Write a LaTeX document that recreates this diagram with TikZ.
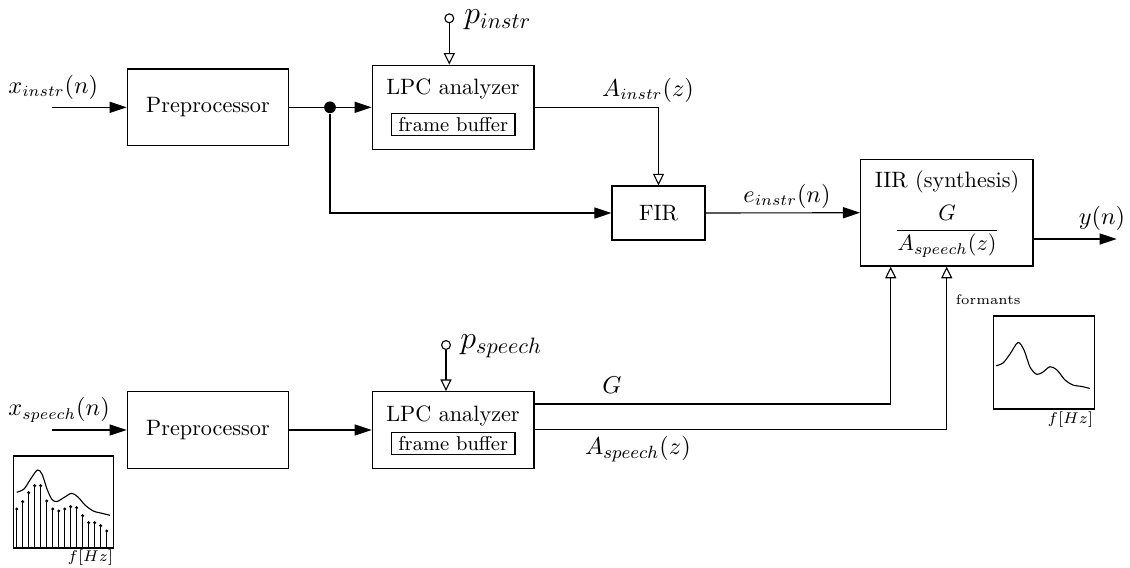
\documentclass[tikz,border=0pt]{standalone}
\usetikzlibrary{arrows.meta}
\newcommand\pxu{0.45pt}
\begin{document}
\begin{tikzpicture}[x=0.45pt,y=-0.45pt,
  block/.style={draw, line width=0.6pt, inner sep=0pt, align=center},
  fbbox/.style={draw, line width=0.5pt, minimum width=123.3*\pxu, minimum height=22*\pxu, inner sep=0pt, font=\small},
  txt/.style={inner sep=0pt},
  mlab/.style={inner sep=0pt, font=\fontsize{10.6}{12}\selectfont},
  biglab/.style={inner sep=0pt, font=\fontsize{11.4}{13}\selectfont},
  plab/.style={inner sep=0pt, font=\Large},
  tinylab/.style={inner sep=0pt, font=\scriptsize},
  wire/.style={line width=0.5pt},
  tri/.style={wire, -{Triangle[length=7.7pt,width=5pt]}},
  otri/.style={wire, -{Triangle[open,length=5.2pt,width=5pt]}},
  junction/.style={circle, fill, inner sep=0pt, minimum size=5.3pt},
  param/.style={circle, draw, line width=0.5pt, inner sep=0pt, minimum size=4pt},
  plotframe/.style={draw, line width=0.6pt},
  stem/.style={line width=0.45pt},
  envelope/.style={line width=0.5pt, smooth}
]
\useasboundingbox (0,0) rectangle (1130,567);

% ---------- instrument branch ----------
\node[block, minimum width=161.4*\pxu, minimum height=76.3*\pxu] (pre1) at (208,107.3) {Preprocessor};
\node[block, minimum width=161.7*\pxu, minimum height=84*\pxu] (lpc1) at (453.2,107.3) {};
\node[txt] (lpc1t) at (453,89.3) {LPC analyzer};
\node[fbbox] (fb1) at (453.3,124.3) {frame buffer};
\node[block, minimum width=92.7*\pxu, minimum height=54*\pxu] (fir) at (658.5,213) {FIR};
\node[block, minimum width=172.3*\pxu, minimum height=106.7*\pxu] (iir) at (946.9,212.7) {};
\node[txt] (iirt) at (947,181.7) {IIR (synthesis)};
\node[txt, anchor=base] (iirf) at (947,235.5) {$\displaystyle\frac{G}{A_{speech}(z)}$};

\coordinate (in1) at (51.7,107.3);
\node[mlab, anchor=west] (xin1) at (8,87) {$x_{instr}(n)$};
\node[junction] (split) at (330,107.3) {};
\node[param] (pin1) at (449.3,18.3) {};
\node[plab, anchor=west] (pin1l) at (464,19.5) {$p_{instr}$};
\node[mlab] (ainl) at (648,90) {$A_{instr}(z)$};
\node[mlab] (einl) at (787,196) {$e_{instr}(n)$};
\coordinate (yout) at (1116.7,239);
\node[mlab] (youtl) at (1102,218) {$y(n)$};

\draw[tri] (in1) -- (pre1.west);
\draw[wire] (pre1.east) -- (split);
\draw[tri] (split) -- (lpc1.west);
\draw[tri] (split) |- (fir.west);
\draw[otri] (pin1) -- (pin1 |- lpc1.north);
\draw[otri] (lpc1.east) -| (fir.north);
\draw[tri] (fir.east) -- (iir.west);
\draw[tri] (iir.east |- yout) -- (yout);

% ---------- speech branch ----------
\node[block, minimum width=161.4*\pxu, minimum height=76.6*\pxu] (pre2) at (208,430) {Preprocessor};
\node[block, minimum width=161.7*\pxu, minimum height=76.6*\pxu] (lpc2) at (453.2,430) {};
\node[txt] (lpc2t) at (453,416) {LPC analyzer};
\node[fbbox] (fb2) at (453.3,443.3) {frame buffer};

\coordinate (in2) at (51.7,430);
\node[mlab, anchor=west] (xin2) at (8,410) {$x_{speech}(n)$};
\node[param] (pin2) at (446,345) {};
\node[plab, anchor=west] (pin2l) at (460,346) {$p_{speech}$};
\coordinate (gy) at (890.7,404);
\coordinate (ay) at (946.7,429.3);
\node[biglab] (gl) at (612,385) {$G$};
\node[biglab] (asl) at (638,449) {$A_{speech}(z)$};

\draw[tri] (in2) -- (pre2.west);
\draw[tri] (pre2.east) -- (lpc2.west);
\draw[otri] (pin2) -- (pin2 |- lpc2.north);
\draw[otri] (lpc2.east |- gy) -- (gy) -- (gy |- iir.south);
\draw[otri] (lpc2.east |- ay) -- (ay) -- (ay |- iir.south);

% ---------- formant envelope ----------
\node[tinylab, font=\fontsize{6.2}{7}\selectfont] (fmt) at (988.3,300) {formants};
\draw[plotframe] (993.3,316) rectangle (1094.3,409);
\draw[envelope] plot coordinates {(996,365.7) (1003,363) (1010,354) (1018,342.5) (1024,350) (1030,367) (1036.7,374.3) (1043,372) (1050,366.7) (1057,370) (1065,380) (1073,385) (1082,386.5) (1090,388.5)};
\node[tinylab, anchor=east] (fhz1) at (1093.5,420) {$f[Hz]$};

% ---------- speech spectrum ----------
\draw[plotframe] (13.3,456) rectangle (113.3,548);
\foreach \k/\h in {0/509,1/501.7,2/492.7,3/485.7,4/485.7,5/501,6/509,7/511,8/509,9/506.7,10/507.7,11/515.7,12/522.7,13/522.7,14/525.7,15/531}{
  \draw[stem] (16.7+6*\k,548) -- (16.7+6*\k,\h);
  \fill (16.7+6*\k,\h) circle (0.75pt);
}
\draw[envelope] plot coordinates {(16.7,492.3) (24,489) (30,480) (37.3,470) (42,474) (47,489) (52,499.5) (57,501.5) (64,497.5) (71.7,493.3) (78,497) (85,505) (93.3,511) (102,513.3) (110,515.3)};
\node[tinylab, anchor=east] (fhz2) at (113.5,558) {$f[Hz]$};
\end{tikzpicture}
\end{document}
